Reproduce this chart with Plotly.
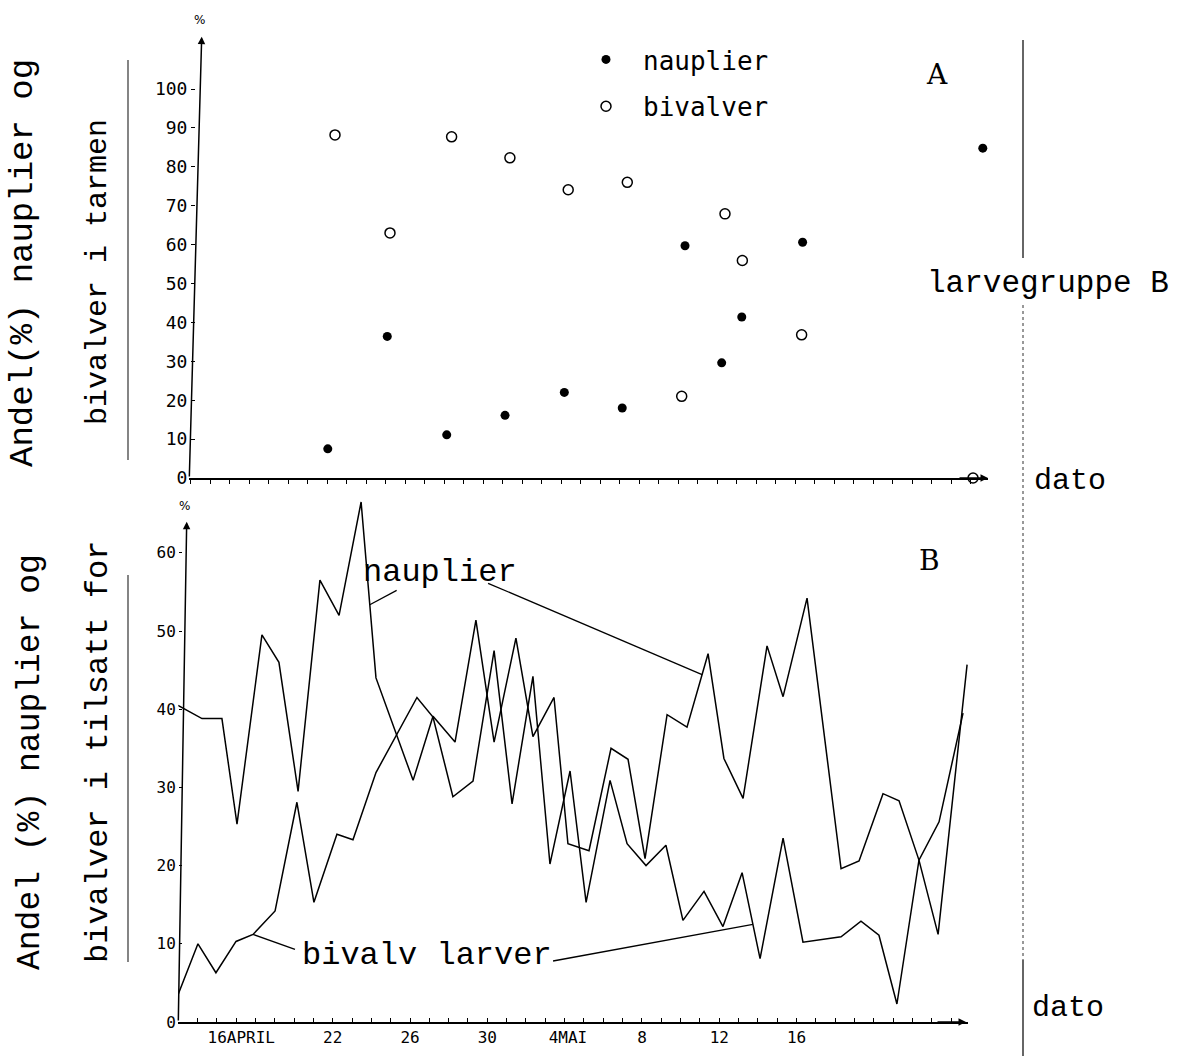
import numpy as np
import plotly.graph_objects as go

W, H = 1183, 1056

# ---------------- Panel A: andel i tarmen (larvegruppe B) ----------------
# dates are day numbers counted from 1 April (May continues as 32, 33, ...)
a_dag_nauplier = [21.04, 24.09, 27.14, 30.13, 33.17, 36.14, 39.36, 41.24, 42.27, 45.39, 54.63]
a_nauplier = [7.5, 36.4, 11.1, 16.1, 22.0, 18.0, 59.7, 29.6, 41.4, 60.6, 84.8]
a_dag_bivalver = [21.41, 24.23, 27.39, 30.38, 33.37, 36.40, 39.19, 41.41, 42.30, 45.34, 54.13]
a_bivalver = [88.2, 63.0, 87.7, 82.3, 74.1, 76.0, 21.0, 67.9, 55.9, 36.8, 0.0]
a_yticks = [0, 10, 20, 30, 40, 50, 60, 70, 80, 90, 100]

# ---------------- Panel B: andel i tilsatt for ----------------
b_dag_nauplier = [14.00, 15.24, 16.27, 17.05, 18.34, 19.22, 20.21, 21.34, 22.33, 23.47,
                  24.24, 26.16, 27.19, 28.33, 29.41, 30.35, 31.48, 32.36, 33.45, 34.17,
                  35.26, 36.40, 37.28, 38.16, 39.30, 40.33, 41.42, 42.24, 43.23, 44.47,
                  45.30, 46.54, 48.30, 49.23, 50.47, 51.30, 52.33, 53.32, 54.82]
b_nauplier = [40.5, 38.8, 38.8, 25.3, 49.5, 46.0, 29.5, 56.5, 52.0, 66.5,
              44.0, 30.9, 39.1, 35.8, 51.4, 35.8, 49.1, 36.5, 41.5, 22.8,
              21.9, 35.0, 33.6, 20.9, 39.3, 37.7, 47.1, 33.7, 28.6, 48.1,
              41.6, 54.2, 19.6, 20.6, 29.2, 28.3, 20.7, 11.2, 45.7]
b_dag_bivalv = [14.00, 15.03, 15.96, 17.00, 17.88, 19.02, 20.15, 21.03, 22.22, 23.05,
                24.24, 26.36, 27.19, 28.22, 29.26, 30.35, 31.28, 32.36, 33.24, 34.28,
                35.11, 36.35, 37.23, 38.21, 39.24, 40.12, 41.21, 42.19, 43.18, 44.11,
                45.30, 46.33, 48.30, 49.33, 50.26, 51.19, 52.33, 53.37, 54.61]
b_bivalv = [3.5, 10.0, 6.3, 10.3, 11.2, 14.2, 28.1, 15.3, 24.0, 23.3,
            31.9, 41.5, 39.0, 28.8, 30.8, 47.5, 27.9, 44.2, 20.2, 32.1,
            15.3, 30.9, 22.8, 20.0, 22.6, 13.0, 16.7, 12.2, 19.1, 8.1,
            23.5, 10.2, 10.9, 12.9, 11.1, 2.3, 20.7, 25.6, 39.5]
b_yticks = [0, 10, 20, 30, 40, 50, 60]
# date labels; the two month labels are centred on the whole word
b_xlabel_dag = [17.27, 22, 26, 30, 34.17, 38, 42, 46]
b_xlabel_tekst = ["16APRIL", "22", "26", "30", "4MAI", "8", "12", "16"]


def px(x):
    return x / W


def py(y):
    return 1 - y / H


INK = "black"
MONO = "DejaVu Sans Mono"
TYPE = "Liberation Mono"

fig = go.Figure()

# panel A markers
fig.add_trace(go.Scatter(
    x=a_dag_nauplier, y=a_nauplier, mode="markers", name="nauplier",
    legendgroup="n", xaxis="x", yaxis="y", cliponaxis=False,
    marker=dict(symbol="circle", size=9, color=INK, line=dict(width=0))))
fig.add_trace(go.Scatter(
    x=a_dag_bivalver, y=a_bivalver, mode="markers", name="bivalver",
    legendgroup="b", xaxis="x", yaxis="y", cliponaxis=False,
    marker=dict(symbol="circle-open", size=10, color=INK, line=dict(width=1.5))))

# panel B lines
fig.add_trace(go.Scatter(
    x=b_dag_nauplier, y=b_nauplier, mode="lines", showlegend=False,
    xaxis="x2", yaxis="y2", line=dict(color=INK, width=1.5)))
fig.add_trace(go.Scatter(
    x=b_dag_bivalv, y=b_bivalv, mode="lines", showlegend=False,
    xaxis="x2", yaxis="y2", line=dict(color=INK, width=1.5)))

# axis geometry (pixels)
a_x0, a_x1, a_y0, a_ytop = 189.3, 988.0, 478.0, 36.7
a_pxday, a_ref_px, a_ref_day = 19.5, 210.0, 15.0
a_pxunit = 3.89
b_x0, b_x1, b_y0, b_ytop = 178.3, 968.0, 1022.0, 495.0
b_pxday, b_ref_px, b_ref_day = 19.33, 216.7, 16.0
b_pxunit = 7.82

a_xrange = [a_ref_day + (a_x0 - a_ref_px) / a_pxday, a_ref_day + (a_x1 - a_ref_px) / a_pxday]
b_xrange = [b_ref_day + (b_x0 - b_ref_px) / b_pxday, b_ref_day + (b_x1 - b_ref_px) / b_pxday]

tickfont_a = dict(family=MONO, size=18, color=INK)
tickfont_b = dict(family=MONO, size=16, color=INK)

fig.update_layout(
    width=W, height=H, autosize=False,
    margin=dict(l=0, r=0, t=0, b=0, pad=0, autoexpand=False),
    paper_bgcolor="white", plot_bgcolor="rgba(0,0,0,0)",
    showlegend=True,
    legend=dict(x=px(569), y=py(36), xanchor="left", yanchor="top",
                font=dict(family=MONO, size=26, color=INK),
                bgcolor="rgba(0,0,0,0)", traceorder="grouped", tracegroupgap=10,
                itemwidth=64),
    xaxis=dict(domain=[px(a_x0), px(a_x1)], range=a_xrange, anchor="y", automargin=False,
               showline=True, linecolor=INK, linewidth=1.5, showgrid=False, zeroline=False,
               tickmode="linear", tick0=0, dtick=1, ticks="outside", ticklen=4,
               tickwidth=1, tickcolor=INK, showticklabels=False),
    yaxis=dict(domain=[py(a_y0), py(a_ytop)], range=[0, (a_y0 - a_ytop) / a_pxunit],
               anchor="free", position=px(195), automargin=False, showline=False,
               showgrid=False, zeroline=False, tickmode="array", tickvals=a_yticks,
               ticktext=[str(v) for v in a_yticks], ticks="outside", ticklen=4,
               tickwidth=1, tickcolor=INK, tickfont=tickfont_a),
    xaxis2=dict(domain=[px(b_x0), px(b_x1)], range=b_xrange, anchor="y2", automargin=False,
                showline=True, linecolor=INK, linewidth=1.5, showgrid=False, zeroline=False,
                tickmode="array", tickvals=b_xlabel_dag, ticktext=b_xlabel_tekst,
                ticks="", tickfont=tickfont_b,
                minor=dict(tickmode="linear", tick0=0, dtick=1, ticks="inside",
                           ticklen=4, tickwidth=1, tickcolor=INK, showgrid=False)),
    yaxis2=dict(domain=[py(b_y0), py(b_ytop)], range=[0, (b_y0 - b_ytop) / b_pxunit],
                anchor="free", position=px(182), automargin=False, showline=False,
                showgrid=False, zeroline=False, tickmode="array", tickvals=b_yticks,
                ticktext=[str(v) for v in b_yticks], ticks="outside", ticklen=3,
                tickwidth=1, tickcolor=INK, tickfont=tickfont_b),
)

# axis arrows (slanted hand-drawn y axes, arrowheads on x axes)
arrows = [
    (201.7, a_ytop, a_x0 - 201.7, a_y0 - a_ytop),
    (a_x1, a_y0, -30, 0),
    (186.7, 521.8, b_x0 - 186.7, b_y0 - 521.8),
    (966.0, b_y0, -30, 0),
]
for tx, ty, dx, dy in arrows:
    fig.add_annotation(x=px(tx), y=py(ty), xref="paper", yref="paper", text="",
                       showarrow=True, ax=dx, ay=dy, arrowhead=2, arrowsize=1,
                       arrowwidth=1.5, arrowcolor=INK, standoff=0)

# leader lines from the labels to the curves in panel B
leaders = [
    (25.31, 55.2, 23.92, b_dag_nauplier, b_nauplier),
    (30.04, 56.1, 41.11, b_dag_nauplier, b_nauplier),
    (20.05, 9.3, 17.88, b_dag_bivalv, b_bivalv),
    (33.40, 7.8, 43.74, b_dag_bivalv, b_bivalv),
]
for x0, y0, xt, xs, ys in leaders:
    fig.add_shape(type="line", xref="x2", yref="y2", x0=x0, y0=y0, x1=xt,
                  y1=float(np.interp(xt, xs, ys)), line=dict(color=INK, width=1.3))

# frame lines at the left and right edges
frame = [
    (128, 60, 128, 460, "solid", 1.2),
    (128, 575, 128, 962, "solid", 1.2),
    (1023, 40, 1023, 258, "solid", 1.5),
    (1023, 305, 1023, 960, "dot", 1.0),
    (1023, 960, 1023, 1056, "solid", 1.5),
]
for x0, y0, x1, y1, dash, w in frame:
    fig.add_shape(type="line", xref="paper", yref="paper", x0=px(x0), y0=py(y0),
                  x1=px(x1), y1=py(y1), line=dict(color="#333333", width=w, dash=dash))


def label(text, x, y, size, family=TYPE, angle=0, xanchor="center"):
    fig.add_annotation(text=text, x=px(x), y=py(y), xref="paper", yref="paper",
                       showarrow=False, textangle=angle, xanchor=xanchor, yanchor="middle",
                       font=dict(family=family, size=size, color=INK))


label("Andel(%) nauplier og", 23, 263, 34, angle=-90)
label("bivalver i tarmen", 98, 272, 30, angle=-90)
label("Andel (%) nauplier og", 30, 762, 33, angle=-90)
label("bivalver i tilsatt for", 98, 752, 32, angle=-90)
label("A", 937, 74, 28, family="DejaVu Serif")
label("B", 929, 560, 28, family="DejaVu Serif")
label("larvegruppe B", 925, 283, 31, xanchor="left")
label("dato", 1032, 481, 30, xanchor="left")
label("dato", 1030, 1008, 30, xanchor="left")
label("nauplier", 440, 572, 32)
label("bivalv larver", 427, 955, 32)
label("%", 199, 20, 12, family="DejaVu Sans")
label("%", 184, 506, 12, family="DejaVu Sans")

fig.write_html("out.html")
